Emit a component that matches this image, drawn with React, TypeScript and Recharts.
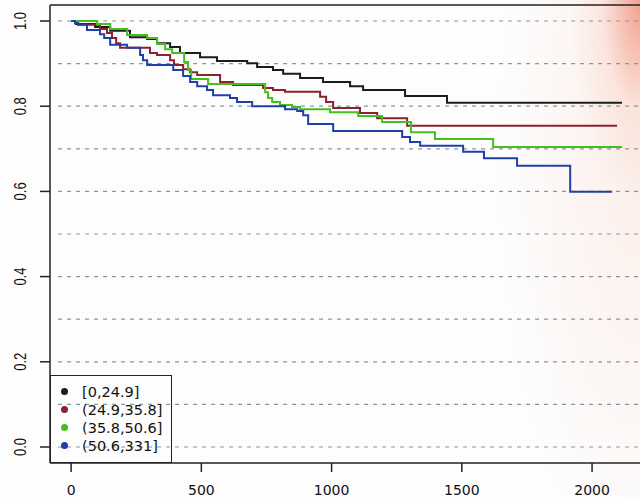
import React from "react";
import { LineChart, Line, XAxis, YAxis, ReferenceLine, Legend } from "recharts";

// ---- data ----
const GROUPS = ["[0,24.9]", "(24.9,35.8]", "(35.8,50.6]", "(50.6,331]"];
const COLORS = ["#1c1c1c", "#8b2230", "#44c01e", "#2040a8"];

const T_A = [0, 19, 92, 150, 226, 292, 330, 380, 418, 495, 560, 676, 714, 775, 814, 879, 967, 1071, 1121, 1282, 1443, 2115];
const S_A = [1, 0.993, 0.986, 0.977, 0.962, 0.958, 0.948, 0.939, 0.925, 0.915, 0.906, 0.901, 0.892, 0.885, 0.876, 0.866, 0.857, 0.847, 0.838, 0.824, 0.808, 0.808];

const T_B = [0, 27, 111, 138, 157, 173, 188, 303, 330, 380, 395, 430, 457, 484, 572, 622, 737, 775, 821, 956, 979, 1006, 1109, 1175, 1290, 2096];
const S_B = [1, 0.991, 0.981, 0.972, 0.96, 0.948, 0.937, 0.925, 0.92, 0.908, 0.897, 0.887, 0.88, 0.873, 0.857, 0.85, 0.843, 0.838, 0.834, 0.822, 0.81, 0.796, 0.784, 0.772, 0.754, 0.754];

const T_C = [0, 100, 150, 215, 292, 330, 361, 388, 434, 449, 461, 526, 745, 756, 772, 802, 848, 879, 994, 1102, 1194, 1305, 1397, 1620, 2115];
const S_C = [1, 0.993, 0.981, 0.967, 0.96, 0.946, 0.934, 0.925, 0.904, 0.885, 0.864, 0.852, 0.833, 0.819, 0.81, 0.803, 0.798, 0.793, 0.786, 0.777, 0.763, 0.739, 0.723, 0.704, 0.704];

const T_D = [0, 15, 27, 61, 111, 127, 150, 215, 265, 276, 292, 392, 430, 457, 484, 522, 545, 610, 637, 695, 821, 868, 891, 910, 1006, 1271, 1301, 1340, 1505, 1585, 1712, 1916, 2077];
const S_D = [1, 0.995, 0.991, 0.979, 0.969, 0.96, 0.944, 0.937, 0.92, 0.908, 0.897, 0.885, 0.871, 0.857, 0.847, 0.838, 0.826, 0.819, 0.81, 0.8, 0.793, 0.789, 0.779, 0.758, 0.742, 0.728, 0.716, 0.707, 0.693, 0.678, 0.66, 0.599, 0.599];

const X_TICKS = [0, 500, 1000, 1500, 2000];
const Y_TICKS = [0, 0.2, 0.4, 0.6, 0.8, 1.0];
const GRID_Y = [0, 0.1, 0.2, 0.3, 0.4, 0.5, 0.6, 0.7, 0.8, 0.9, 1.0];
const X_DOMAIN: [number, number] = [-81, 2184];
const Y_DOMAIN: [number, number] = [-0.0376, 1.0376];

const build = (t: number[], s: number[]) => t.map((v, i) => ({ t: v, s: s[i] }));
const SERIES = [build(T_A, S_A), build(T_B, S_B), build(T_C, S_C), build(T_D, S_D)];

const XTick = (props: any) => {
  const { x, y, payload } = props;
  return (
    <text x={x} y={y + 21} textAnchor="middle" fontFamily="DejaVu Sans" fontSize={14} fill="#111">
      {payload.value}
    </text>
  );
};

const YTick = (props: any) => {
  const { x, y, payload } = props;
  return (
    <text
      transform={`translate(${x - 12},${y}) rotate(-90) scale(1,1.2)`}
      textAnchor="middle"
      fontFamily="Liberation Sans"
      fontSize={13}
      fill="#111"
    >
      {Number(payload.value).toFixed(1)}
    </text>
  );
};

const LegendBox = () => (
  <div
    style={{
      boxSizing: "border-box",
      width: 122,
      height: 88,
      border: "1.5px solid #222",
      paddingTop: 6.5,
      fontFamily: "DejaVu Sans",
      fontSize: 14.5,
      color: "#111",
    }}
  >
    {GROUPS.map((g, i) => (
      <div key={g} style={{ height: 18, lineHeight: "18px", display: "flex", alignItems: "center" }}>
        <span
          style={{
            display: "inline-block",
            width: 7,
            height: 7,
            borderRadius: "50%",
            background: COLORS[i],
            marginLeft: 10,
            marginRight: 14,
          }}
        />
        <span>{g}</span>
      </div>
    ))}
  </div>
);

export default function App() {
  return (
    <div
      style={{
        position: "absolute",
        left: 0,
        top: 0,
        width: 640,
        height: 497,
        background:
          "radial-gradient(ellipse 70px 200px at 100% 0%, rgba(232,105,75,0.6), rgba(248,190,170,0.25) 55%, rgba(255,255,255,0) 100%), radial-gradient(ellipse 140px 420px at 100% 30%, rgba(250,220,210,0.45), rgba(255,255,255,0) 100%), #fdfdfd",
      }}
    >
      <LineChart width={640} height={497} margin={{ top: 5, right: 0, bottom: 0, left: 0 }}>
        <XAxis
          type="number"
          dataKey="t"
          domain={X_DOMAIN}
          ticks={X_TICKS}
          allowDataOverflow
          height={34}
          tickSize={9}
          axisLine={{ stroke: "#222", strokeWidth: 1.5 }}
          tickLine={{ stroke: "#222", strokeWidth: 1.5 }}
          tick={<XTick />}
        />
        <YAxis
          type="number"
          domain={Y_DOMAIN}
          ticks={Y_TICKS}
          allowDataOverflow
          width={50}
          tickSize={10}
          axisLine={{ stroke: "#222", strokeWidth: 1.5 }}
          tickLine={{ stroke: "#222", strokeWidth: 1.5 }}
          tick={<YTick />}
        />
        {GRID_Y.map((g) => (
          <ReferenceLine
            key={g}
            segment={[
              { x: -50, y: g },
              { x: X_DOMAIN[1], y: g },
            ]}
            stroke="#8d959c"
            strokeWidth={1.2}
            strokeDasharray="4 5"
          />
        ))}
        <ReferenceLine y={Y_DOMAIN[1]} stroke="#222" strokeWidth={1.5} />
        {SERIES.map((d, i) => (
          <Line
            key={GROUPS[i]}
            data={d}
            dataKey="s"
            type="stepAfter"
            stroke={COLORS[i]}
            strokeWidth={2}
            dot={false}
            isAnimationActive={false}
            name={GROUPS[i]}
          />
        ))}
        <Legend
          layout="vertical"
          align="center"
          verticalAlign="middle"
          content={<LegendBox />}
          wrapperStyle={{ left: 50, top: 375, width: 122, height: 88 }}
        />
      </LineChart>
    </div>
  );
}
